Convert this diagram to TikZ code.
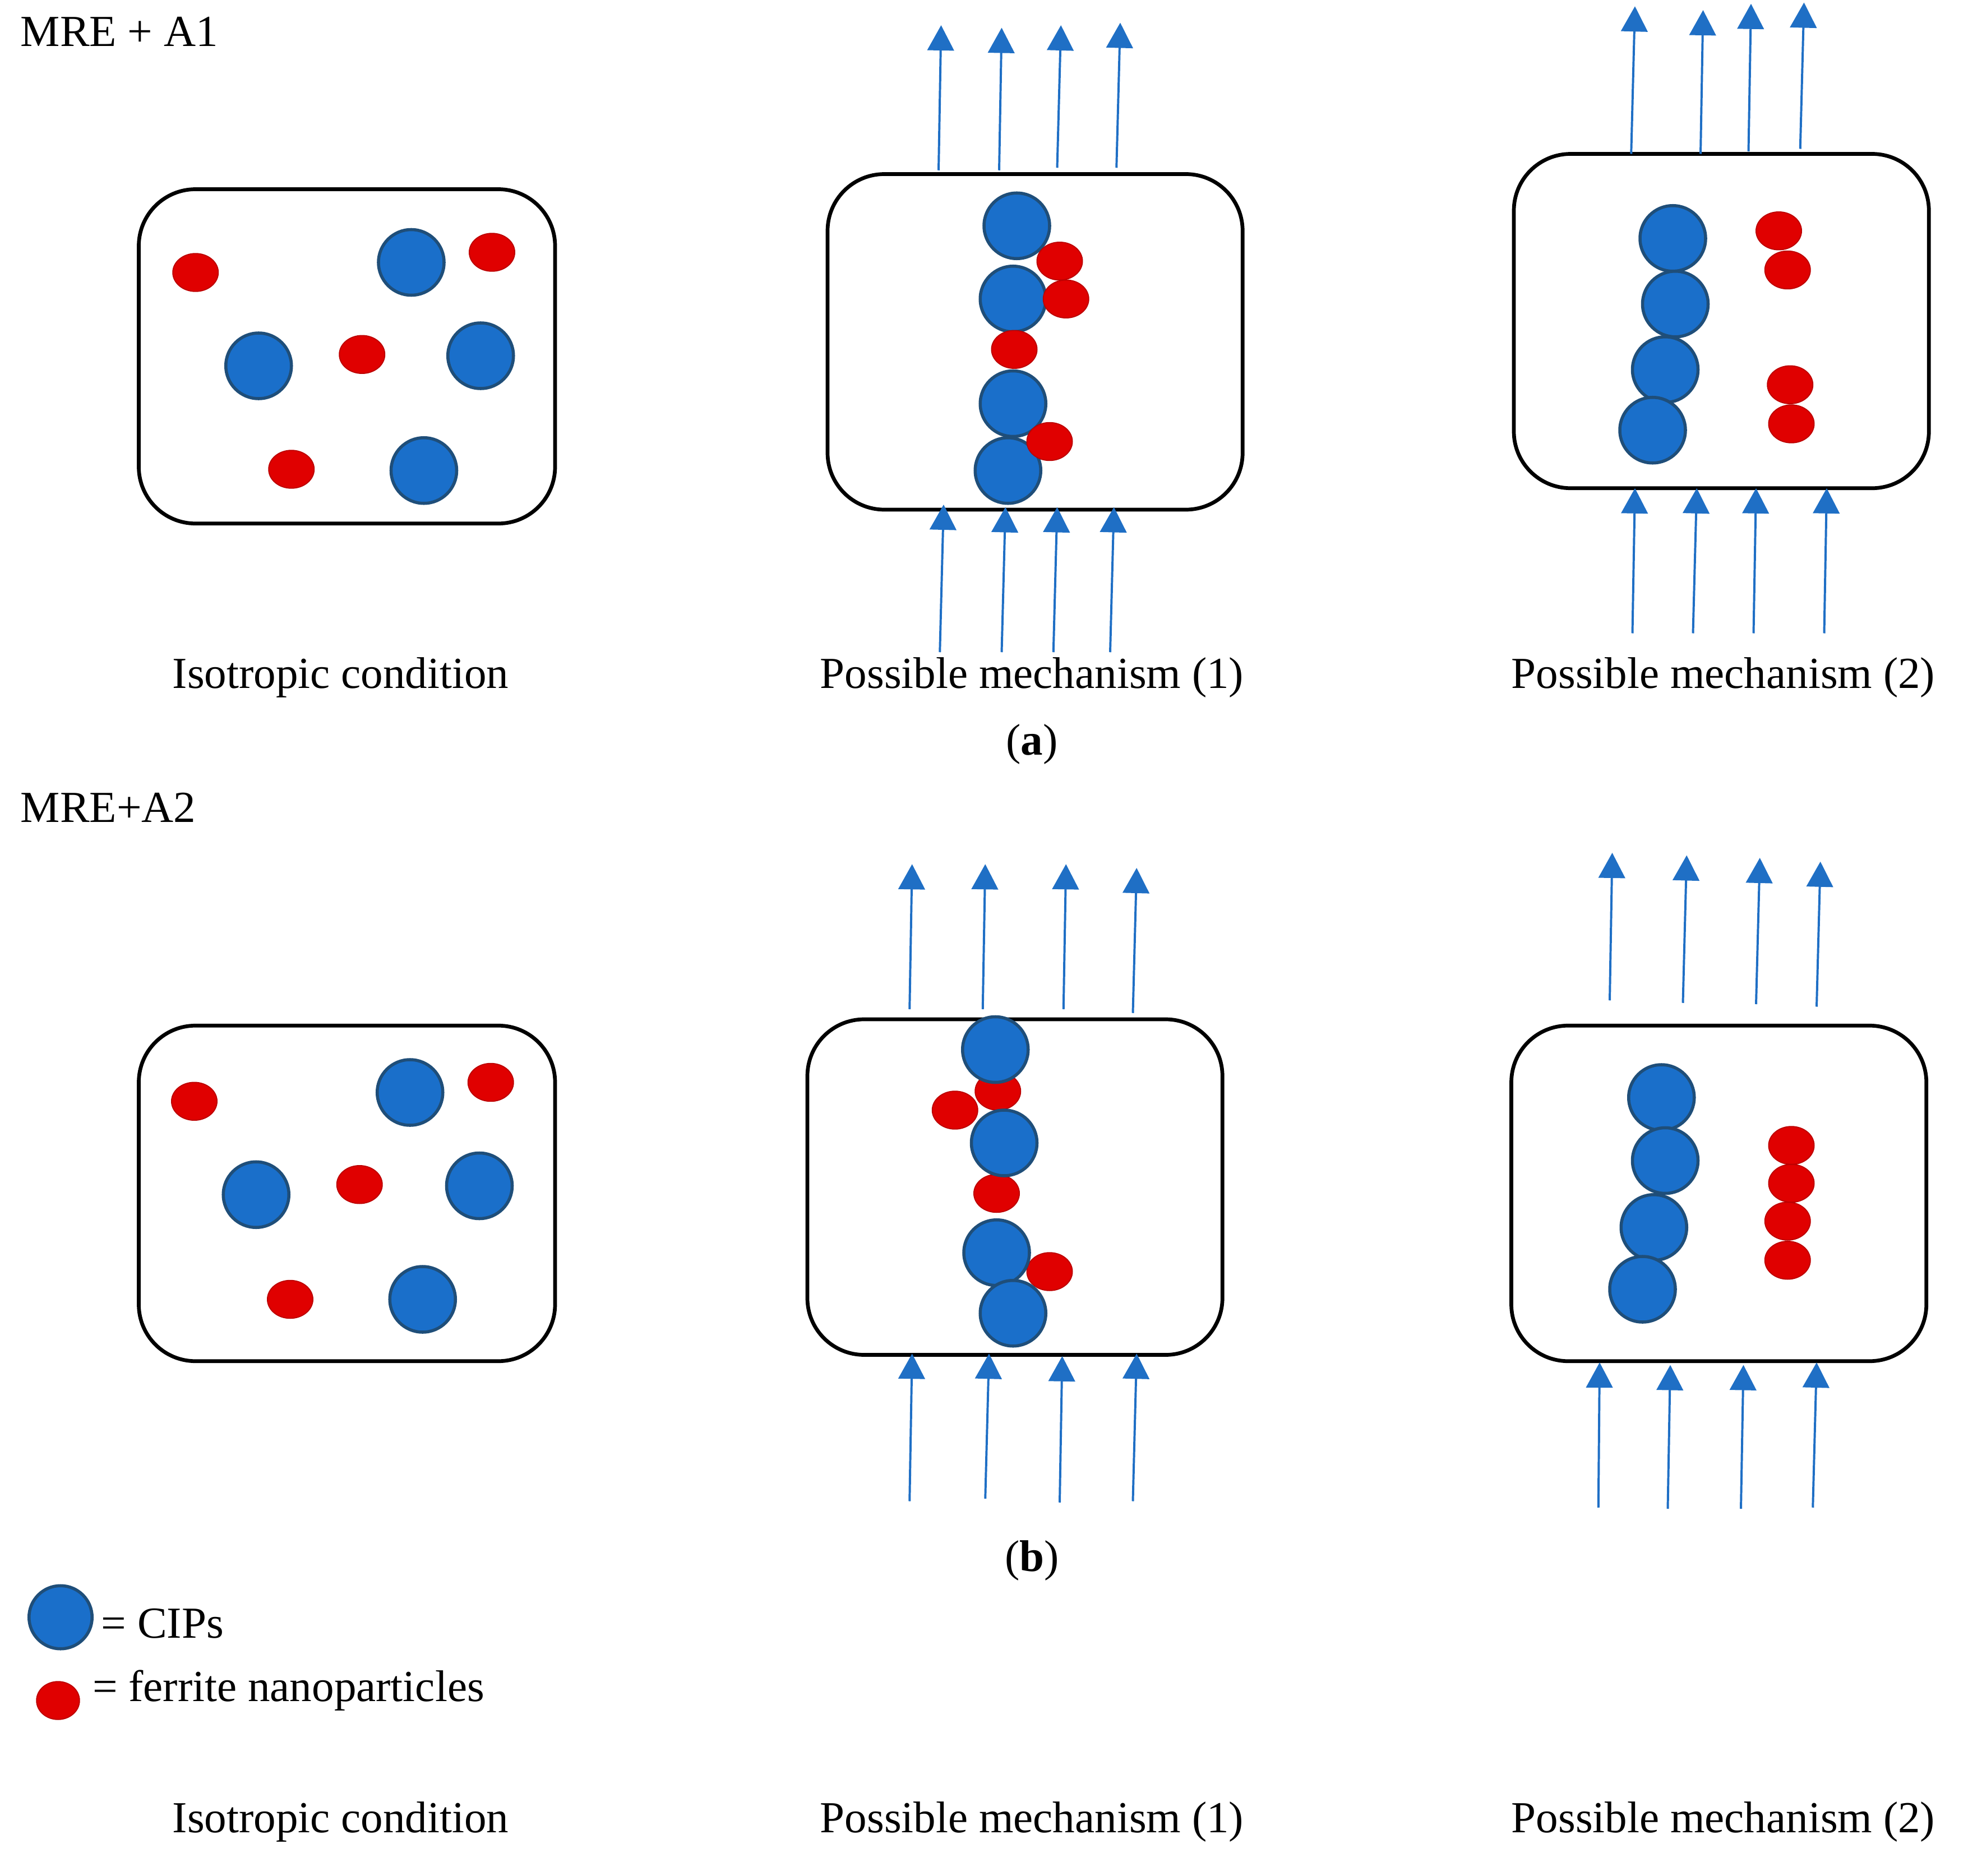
\documentclass[tikz,border=0pt]{standalone}
\usepackage{fontspec}
\setmainfont{Liberation Serif}
\usetikzlibrary{arrows.meta}
\definecolor{cipfill}{HTML}{1A6FCA}
\definecolor{cipline}{HTML}{1F4E79}
\definecolor{fer}{HTML}{E00000}
\definecolor{arr}{HTML}{1F6FC5}
\begin{document}
\begin{tikzpicture}[x=0.02cm,y=-0.02cm,
  box/.style={draw=black,line width=1.7pt,rounded corners=0.9cm},
  cip/.style={fill=cipfill,draw=cipline,line width=1.4pt},
  fe/.style={fill=fer,draw=fer!85!black,line width=0.5pt},
  fld/.style={draw=arr,line width=1pt,-{Triangle[width=0.42cm,length=0.4cm]}},
  lab/.style={font=\fontsize{20}{24}\selectfont,inner sep=0pt}]
\useasboundingbox (0,0) rectangle (1560,1487);
% ---- panel a
\draw[box] (110,150) rectangle (440,415);
\foreach \x/\y in {326/208,205/290,381/282,336/373}{\draw[cip] (\x,\y) circle[radius=26];}
\foreach \x/\y in {155/216,390/200,287/281,231/372}{\draw[fe] (\x,\y) ellipse[x radius=18,y radius=15];}
\draw[box] (656,138) rectangle (985,404);
\foreach \x/\y in {806/179,803/237,803/320,799/373}{\draw[cip] (\x,\y) circle[radius=26];}
\foreach \x/\y in {840/207,845/237,804/277,832/350}{\draw[fe] (\x,\y) ellipse[x radius=18,y radius=15];}
\foreach \a/\b/\c/\d in {744/135/746/20,792/135/794/22,838/133/841/20,885/133/888/18,745/517/748/400,794/517/797/402,835/517/838/402,880/517/883/402}{\draw[fld] (\a,\b) -- (\c,\d);}
\draw[box] (1200,122) rectangle (1529,387);
\foreach \x/\y in {1326/189,1328/241,1320/293,1310/341}{\draw[cip] (\x,\y) circle[radius=26];}
\foreach \x/\y in {1410/183,1417/214,1419/305,1420/336}{\draw[fe] (\x,\y) ellipse[x radius=18,y radius=15];}
\foreach \a/\b/\c/\d in {1293/122/1296/5,1348/122/1350/8,1386/120/1388/3,1427/118/1430/2,1294/502/1296/387,1342/502/1345/387,1390/502/1392/387,1446/502/1448/387}{\draw[fld] (\a,\b) -- (\c,\d);}
\node[lab,anchor=west] (ta) at (16,25) {MRE + A1};
\node[lab] (l1) at (270,537) {Isotropic condition};
\node[lab] (l2) at (818,537) {Possible mechanism (1)};
\node[lab] (l3) at (1366,537) {Possible mechanism (2)};
\node[lab] (ca) at (818,590) {(\textbf{a})};
% ---- panel b
\node[lab,anchor=west] (tb) at (16,640) {MRE+A2};
\draw[box] (110,813) rectangle (440,1079);
\foreach \x/\y in {325/866,203/947,380/940,335/1030}{\draw[cip] (\x,\y) circle[radius=26];}
\foreach \x/\y in {154/873,389/858,285/939,230/1030}{\draw[fe] (\x,\y) ellipse[x radius=18,y radius=15];}
\draw[box] (640,808) rectangle (969,1074);
\foreach \x/\y in {791/865,757/880,790/946,832/1008}{\draw[fe] (\x,\y) ellipse[x radius=18,y radius=15];}
\foreach \x/\y in {789/832,796/906,790/993,803/1041}{\draw[cip] (\x,\y) circle[radius=26];}
\foreach \a/\b/\c/\d in {721/800/723/685,779/800/781/685,843/800/845/685,898/803/901/688,721/1190/723/1073,781/1188/784/1073,840/1191/842/1075,898/1190/901/1073}{\draw[fld] (\a,\b) -- (\c,\d);}
\draw[box] (1198,813) rectangle (1527,1079);
\foreach \x/\y in {1317/870,1320/920,1311/973,1302/1022}{\draw[cip] (\x,\y) circle[radius=26];}
\foreach \x/\y in {1420/908,1420/938,1417/968,1417/999}{\draw[fe] (\x,\y) ellipse[x radius=18,y radius=15];}
\foreach \a/\b/\c/\d in {1276/793/1278/676,1334/795/1337/678,1392/796/1395/680,1440/798/1443/683,1267/1195/1268/1080,1322/1196/1324/1082,1380/1196/1382/1082,1437/1195/1440/1080}{\draw[fld] (\a,\b) -- (\c,\d);}
\node[lab] (cb) at (818,1237) {(\textbf{b})};
% ---- legend
\draw[cip] (48,1282) circle[radius=25];
\node[lab,anchor=west] (lg1) at (80,1287) {= CIPs};
\draw[fe] (46,1348) ellipse[x radius=17,y radius=15];
\node[lab,anchor=west] (lg2) at (73,1340) {= ferrite nanoparticles};
\node[lab] (m1) at (270,1444) {Isotropic condition};
\node[lab] (m2) at (818,1444) {Possible mechanism (1)};
\node[lab] (m3) at (1366,1444) {Possible mechanism (2)};
\end{tikzpicture}
\end{document}
